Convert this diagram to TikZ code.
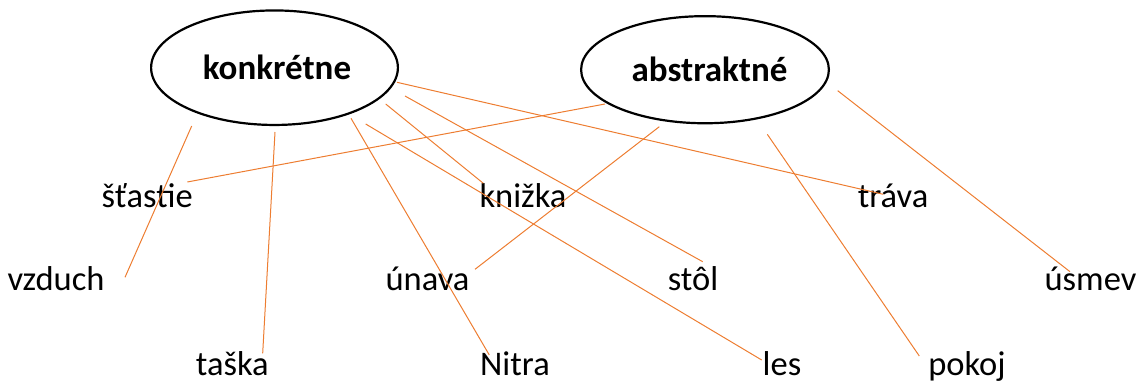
\documentclass[tikz,border=0pt]{standalone}
\usepackage{fontspec}
\setmainfont{Carlito}
\usetikzlibrary{shapes.geometric}
\definecolor{linkorange}{HTML}{ED7D31}
\begin{document}
\begin{tikzpicture}[x=1pt,y=-1pt,
  cat/.style={draw=black, line width=2.2pt, ellipse, inner sep=0pt,
    font=\fontsize{35}{42}\selectfont\bfseries},
  word/.style={inner sep=0pt, anchor=base, font=\fontsize{34.5}{41}\selectfont},
  link/.style={draw=linkorange, line width=1pt}]
\useasboundingbox (0,0) rectangle (1138,383);
% category ellipses
\node[cat, minimum width=246.8pt, minimum height=114.5pt] (k) at (274.5,67.7) {\hspace{5pt}konkrétne};
\node[cat, minimum width=247.8pt, minimum height=107.1pt] (a) at (705,69.7) {\hspace{9pt}abstraktné};
% words
\node[word] (stastie) at (147.2,207.5) {šťastie};
\node[word] (knizka)  at (523,207.5) {knižka};
\node[word] (trava)   at (893,207.5) {tráva};
\node[word] (vzduch)  at (56,290.5) {vzduch};
\node[word] (unava)   at (427.5,290.5) {únava};
\node[word] (stol)    at (693,290.5) {stôl};
\node[word] (usmev)   at (1090.5,290.5) {úsmev};
\node[word] (taska)   at (232.3,375) {taška};
\node[word] (nitra)   at (515,375) {Nitra};
\node[word] (les)     at (782,375) {les};
\node[word] (pokoj)   at (967,375) {pokoj};
% connector end points
\coordinate (k-vzduch) at (191.7,126);   \coordinate (vzduch-in) at (125,277.3);
\coordinate (k-taska)  at (275,132);     \coordinate (taska-in)  at (262.7,353.3);
\coordinate (k-nitra)  at (351,118.3);   \coordinate (nitra-in)  at (489.3,355);
\coordinate (k-les)    at (365.7,124);   \coordinate (les-in)    at (761.7,360);
\coordinate (k-knizka) at (385.7,104);   \coordinate (knizka-in) at (483.3,183.3);
\coordinate (k-stol)   at (405,96);      \coordinate (stol-in)   at (702.7,261.7);
\coordinate (k-trava)  at (397,82.3);    \coordinate (trava-in)  at (883.3,194.3);
\coordinate (a-stastie) at (605,104);    \coordinate (stastie-in) at (187.3,182);
\coordinate (a-unava)  at (659.3,126.7); \coordinate (unava-in)  at (475,269.3);
\coordinate (a-pokoj)  at (767.3,134.3); \coordinate (pokoj-in)  at (919.3,356);
\coordinate (a-usmev)  at (837.7,90.7);  \coordinate (usmev-in)  at (1070,271.7);
% connectors
\draw[link] (k-vzduch) -- (vzduch-in);
\draw[link] (k-taska) -- (taska-in);
\draw[link] (k-nitra) -- (nitra-in);
\draw[link] (k-les) -- (les-in);
\draw[link] (k-knizka) -- (knizka-in);
\draw[link] (k-stol) -- (stol-in);
\draw[link] (k-trava) -- (trava-in);
\draw[link] (a-stastie) -- (stastie-in);
\draw[link] (a-unava) -- (unava-in);
\draw[link] (a-pokoj) -- (pokoj-in);
\draw[link] (a-usmev) -- (usmev-in);
\end{tikzpicture}
\end{document}
